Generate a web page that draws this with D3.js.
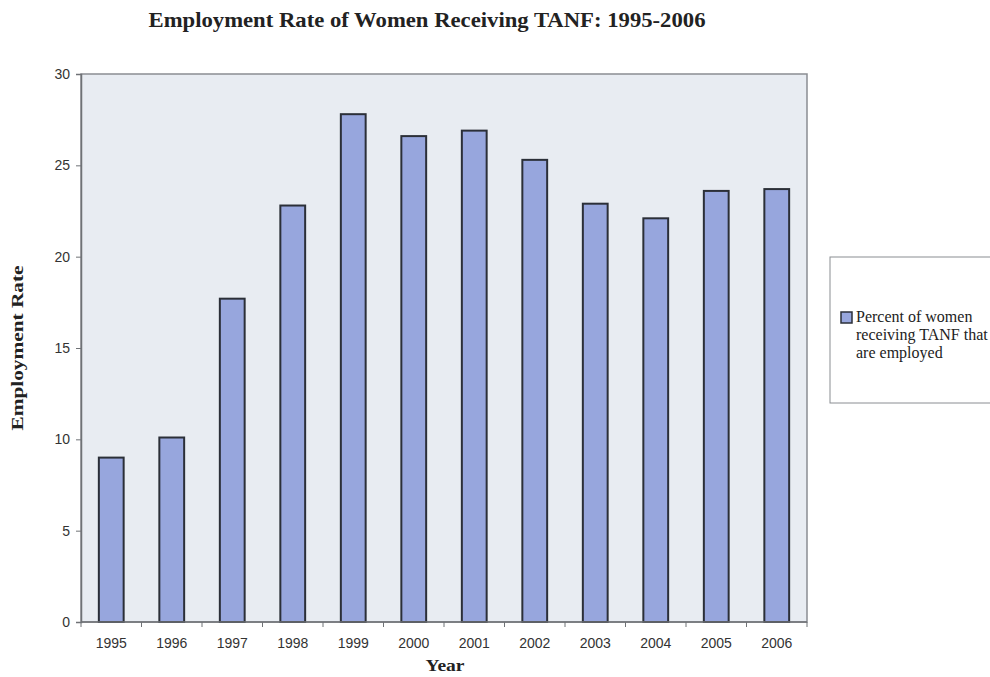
<!DOCTYPE html>
<html>
<head>
<meta charset="utf-8">
<script src="https://cdn.jsdelivr.net/npm/d3@7"></script>
<style>
  html, body { margin: 0; padding: 0; background: #ffffff; }
  svg { display: block; }
</style>
</head>
<body>
<svg id="chart" width="990" height="677"></svg>
<script>
// Employment rate of women receiving TANF, by year
const years = ["1995", "1996", "1997", "1998", "1999", "2000", "2001", "2002", "2003", "2004", "2005", "2006"];
const employmentRate = [9.0, 10.1, 17.7, 22.8, 27.8, 26.6, 26.9, 25.3, 22.9, 22.1, 23.6, 23.7];
const yTicks = [0, 5, 10, 15, 20, 25, 30];
const seriesName = ["Percent of women", "receiving TANF that", "are employed"];

const svg = d3.select("#chart");
const plot = { left: 81, right: 807, top: 74, bottom: 622 };

const x = d3.scaleBand().domain(years).range([plot.left, plot.right]).paddingInner(0.59).paddingOuter(0.295);
const xEdges = d3.scaleLinear().domain([0, years.length]).range([plot.left, plot.right]);
const y = d3.scaleLinear().domain([0, 30]).range([plot.bottom, plot.top]);

const serif = "Liberation Serif, Times New Roman, serif";
const sans = "Liberation Sans, Arial, sans-serif";

// Title
svg.append("text")
  .attr("x", 427).attr("y", 27)
  .attr("text-anchor", "middle")
  .attr("font-family", serif)
  .attr("font-weight", "bold")
  .attr("font-size", 21)
  .attr("textLength", 557).attr("lengthAdjust", "spacingAndGlyphs")
  .attr("fill", "#222")
  .text("Employment Rate of Women Receiving TANF: 1995-2006");

// Plot area
svg.append("rect")
  .attr("x", plot.left).attr("y", plot.top)
  .attr("width", plot.right - plot.left).attr("height", plot.bottom - plot.top)
  .attr("fill", "#e8ecf2")
  .attr("stroke", "#8a8d92").attr("stroke-width", 1.5);

// Bars
svg.append("g").selectAll("rect")
  .data(years.map((yr, i) => ({ yr, v: employmentRate[i] })))
  .join("rect")
  .attr("x", d => x(d.yr))
  .attr("y", d => y(d.v))
  .attr("width", x.bandwidth())
  .attr("height", d => y(0) - y(d.v))
  .attr("fill", "#97a6dd")
  .attr("stroke", "#2b2f38").attr("stroke-width", 2);

// Y axis
const yAxis = svg.append("g")
  .attr("transform", `translate(${plot.left},0)`)
  .call(d3.axisLeft(y).tickValues(yTicks).tickSize(5).tickPadding(6));
yAxis.select(".domain").attr("stroke", "#6f7276").attr("stroke-width", 1.5);
yAxis.selectAll(".tick line").attr("stroke", "#6f7276");
yAxis.selectAll(".tick text")
  .attr("font-family", sans)
  .attr("font-size", 14).attr("fill", "#333");

// X axis: ticks at category boundaries, labels centred under bars
const xAxis = svg.append("g").attr("transform", `translate(0,${plot.bottom})`);
xAxis.append("line")
  .attr("x1", plot.left).attr("x2", plot.right)
  .attr("stroke", "#6f7276").attr("stroke-width", 1.5);
xAxis.selectAll("line.edge")
  .data(d3.range(years.length + 1))
  .join("line")
  .attr("class", "edge")
  .attr("x1", d => xEdges(d)).attr("x2", d => xEdges(d))
  .attr("y1", 0).attr("y2", 5)
  .attr("stroke", "#6f7276");
xAxis.selectAll("text")
  .data(years)
  .join("text")
  .attr("x", d => x(d) + x.bandwidth() / 2)
  .attr("y", 26)
  .attr("text-anchor", "middle")
  .attr("font-family", sans)
  .attr("font-size", 14).attr("fill", "#333")
  .text(d => d);

// Axis titles
svg.append("text")
  .attr("x", 445).attr("y", 671)
  .attr("text-anchor", "middle")
  .attr("font-family", serif)
  .attr("font-weight", "bold").attr("font-size", 16)
  .attr("textLength", 39).attr("lengthAdjust", "spacingAndGlyphs")
  .attr("fill", "#222")
  .text("Year");
svg.append("text")
  .attr("transform", "translate(23,348) rotate(-90)")
  .attr("text-anchor", "middle")
  .attr("font-family", serif)
  .attr("font-weight", "bold").attr("font-size", 16)
  .attr("textLength", 165).attr("lengthAdjust", "spacingAndGlyphs")
  .attr("fill", "#222")
  .text("Employment Rate");

// Legend (its box runs past the right edge of the page)
const legend = svg.append("g");
legend.append("rect")
  .attr("x", 830).attr("y", 257).attr("width", 175).attr("height", 146)
  .attr("fill", "#ffffff").attr("stroke", "#8a8d92").attr("stroke-width", 1);
legend.append("rect")
  .attr("x", 841).attr("y", 312).attr("width", 11).attr("height", 11)
  .attr("fill", "#97a6dd").attr("stroke", "#2b2f38").attr("stroke-width", 1.5);
legend.selectAll("text.item")
  .data(seriesName)
  .join("text")
  .attr("class", "item")
  .attr("x", 856)
  .attr("y", (d, i) => 322 + i * 18)
  .attr("font-family", serif)
  .attr("font-size", 16).attr("fill", "#222")
  .text(d => d);
</script>
</body>
</html>
